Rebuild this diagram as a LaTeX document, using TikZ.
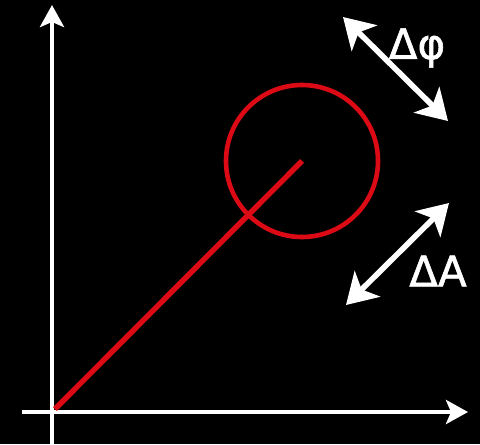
\documentclass[tikz,border=0pt]{standalone}
\usepackage{fontspec}
\setmainfont{DejaVu Sans}
\newfontfamily\lblfont[FakeBold=1.3]{DejaVu Sans}
\usetikzlibrary{arrows.meta}

\begin{document}
\begin{tikzpicture}[x=0.5pt,y=-0.5pt,
    axis/.style={draw=white, line width=2.3pt, -{Stealth[length=11pt,width=12pt,inset=2.5pt]}},
    delta/.style={draw=white, line width=2.8pt, {Stealth[length=15pt,width=18pt,inset=4pt]}-{Stealth[length=15pt,width=18pt,inset=4pt]}},
    phasor/.style={draw={rgb,255:red,220;green,10;blue,20}, line width=2.7pt},
    every node/.style={font=\lblfont\fontsize{21}{24}\selectfont, text=white}]
    \useasboundingbox[fill=black] (0,0) rectangle (480,444);
    % axes
    \coordinate (xstart) at (22,412);
    \coordinate (xend) at (468,412);
    \coordinate (ystart) at (52,444);
    \coordinate (yend) at (52,5);
    \coordinate (O) at (55,409);
    \draw[axis] (xstart) -- (xend);
    \draw[axis] (ystart) -- (yend);
    % phasor with its tolerance circle
    \coordinate (tip) at (302,161);
    \draw[phasor] (O) -- (tip);
    \draw[phasor, line width=2.3pt] (tip) circle[radius=76];
    % phase and amplitude arrows
    \coordinate (phiA) at (343,17);
    \coordinate (phiB) at (448,121);
    \coordinate (ampA) at (346,305);
    \coordinate (ampB) at (449,203);
    \draw[delta] (phiA) -- (phiB);
    \draw[delta] (ampA) -- (ampB);
    \node (dphi) at (417,48) {Δφ};
    \node (dA) at (438,271) {ΔA};
\end{tikzpicture}
\end{document}
